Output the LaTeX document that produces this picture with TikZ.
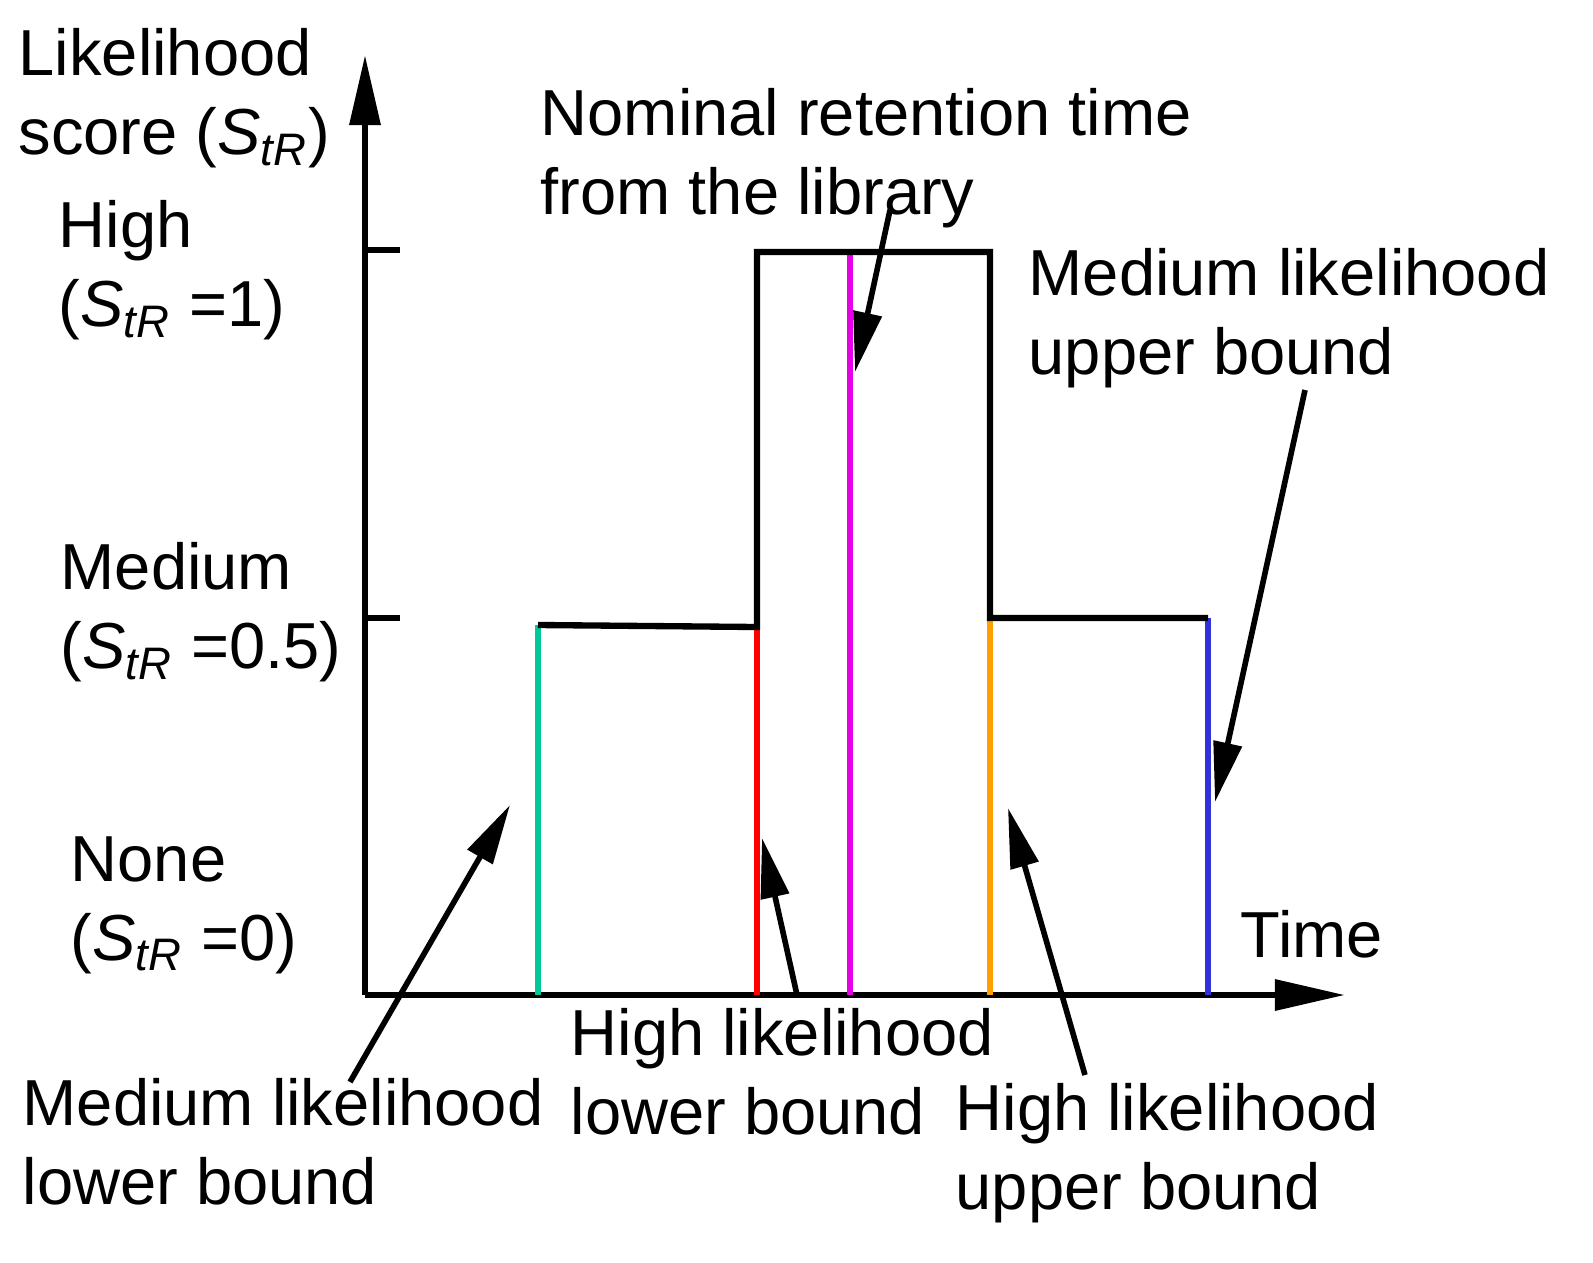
\documentclass[tikz,border=0pt]{standalone}
\usepackage{fontspec}
\setmainfont{Liberation Sans}
\usetikzlibrary{arrows.meta}
\newcommand{\Str}{\textit{S}\textsubscript{\textit{tR}}}
\begin{document}
\begin{tikzpicture}[x=0.01cm,y=-0.01cm,
  lbl/.style={anchor=north west,align=left,inner sep=0pt,font=\fontsize{18.5}{22.5}\selectfont},
  big/.style={-{Triangle[width=0.28cm,length=0.6cm]},line width=1.6pt},
  ax/.style={line width=1.8pt},
  bar/.style={line width=1.6pt}]
\useasboundingbox (0,0) rectangle (1593,1263);
% axes
\coordinate (o) at (365,995);
\coordinate (ytop) at (365,55);
\coordinate (xend) at (1345,995);
\draw[ax,-{Triangle[width=0.3cm,length=0.7cm]}] (o) -- (ytop);
\draw[ax,-{Triangle[width=0.3cm,length=0.7cm]}] (o) -- (xend);
\draw[ax] (365,250) -- (400,250);
\draw[ax] (365,618) -- (400,618);
% colored bounds
\draw[bar,color={rgb,255:red,0;green,200;blue,150}] (538,625) -- (538,995);
\draw[bar,red] (757,625) -- (757,995);
\draw[bar,color={rgb,255:red,230;green,0;blue,230}] (850,252) -- (850,995);
\draw[bar,color={rgb,255:red,255;green,160;blue,0}] (990,618) -- (990,995);
\draw[bar,color={rgb,255:red,50;green,50;blue,220}] (1208,618) -- (1208,995);
% step
\draw[ax,line join=miter] (538,625) -- (538,625) -- (757,627) -- (757,252) -- (990,252) -- (990,618) -- (1208,618);
% labels
\node[lbl] (yl) at (18,28) {Likelihood\\score (\Str)};
\node[lbl] (hi) at (58,200) {High\\(\Str\ =1)};
\node[lbl] (me) at (60,542) {Medium\\(\Str\ =0.5)};
\node[lbl] (no) at (70,836) {None\\(\Str\ =0)};
\node[lbl] (tm) at (1240,910) {Time};
\node[lbl] (nom) at (540,88) {Nominal retention time\\from the library};
\node[lbl] (mub) at (1028,248) {Medium likelihood\\upper bound};
\node[lbl] (hlb) at (570,1008) {High likelihood\\lower bound};
\node[lbl] (mlb) at (22,1078) {Medium likelihood\\lower bound};
\node[lbl] (hub) at (955,1083) {High likelihood\\upper bound};
% arrows
\coordinate (a1s) at (890,210); \coordinate (a1e) at (855,372);
\coordinate (a2s) at (1305,390); \coordinate (a2e) at (1215,802);
\coordinate (a3s) at (350,1082); \coordinate (a3e) at (510,805);
\coordinate (a4s) at (797,995); \coordinate (a4e) at (762,838);
\coordinate (a5s) at (1085,1075); \coordinate (a5e) at (1008,808);
\draw[big] (a1s) -- (a1e);
\draw[big] (a2s) -- (a2e);
\draw[big] (a3s) -- (a3e);
\draw[big] (a4s) -- (a4e);
\draw[big] (a5s) -- (a5e);
\end{tikzpicture}
\end{document}
